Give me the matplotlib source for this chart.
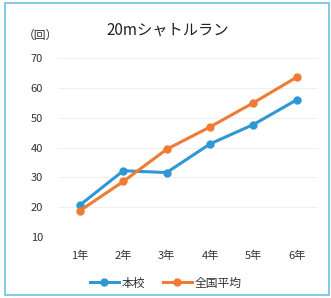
import matplotlib
matplotlib.use("Agg")
import matplotlib.pyplot as plt
from matplotlib.patches import Rectangle

plt.rcParams['font.family'] = ['Noto Sans CJK JP', 'DejaVu Sans']

categories = ["1年", "2年", "3年", "4年", "5年", "6年"]
school = [20.7, 32.2, 31.6, 41.2, 47.7, 56.0]
national = [18.8, 28.6, 39.4, 46.9, 55.0, 63.6]
yticks = [10, 20, 30, 40, 50, 60, 70]

fig = plt.figure(figsize=(3.31, 2.98), dpi=100)
ax = fig.add_axes([0.176, 0.205, 0.786, 0.600])

x = range(len(categories))
ax.plot(x, school, color="#2f98d4", lw=2.2, marker="o", ms=5, label="本校", zorder=3)
ax.plot(x, national, color="#ef7b35", lw=2.2, marker="o", ms=5, label="全国平均", zorder=3)

ax.set_xlim(-0.5, 5.5)
ax.set_ylim(10, 70)
ax.set_yticks(yticks)
ax.set_xticks(list(x))
ax.set_xticklabels(categories)
ax.grid(axis="y", color="#f0f0f0", lw=0.8)
ax.set_axisbelow(True)
for s in ax.spines.values():
    s.set_visible(False)
ax.tick_params(length=0, labelsize=8, colors="#333333", pad=10)
ax.tick_params(axis="y", pad=11)

fig.text(0.508, 0.900, "20mシャトルラン", ha="center", va="center", fontsize=11, color="#222222")
fig.text(0.122, 0.880, "（回）", ha="center", va="center", fontsize=8.5, color="#333333")

leg = fig.legend(loc="center", bbox_to_anchor=(0.5, 0.05), ncol=2, frameon=False,
                 fontsize=8.5, handlelength=2.5, columnspacing=1.5, handletextpad=0.2)
for t in leg.get_texts():
    t.set_color("#333333")

fig.patches.append(Rectangle((5/331, 3/298), 324/331, 292/298, transform=fig.transFigure,
                             fill=False, edgecolor="#6cc0e6", lw=1.2))

fig.savefig("out.png", dpi=100)
